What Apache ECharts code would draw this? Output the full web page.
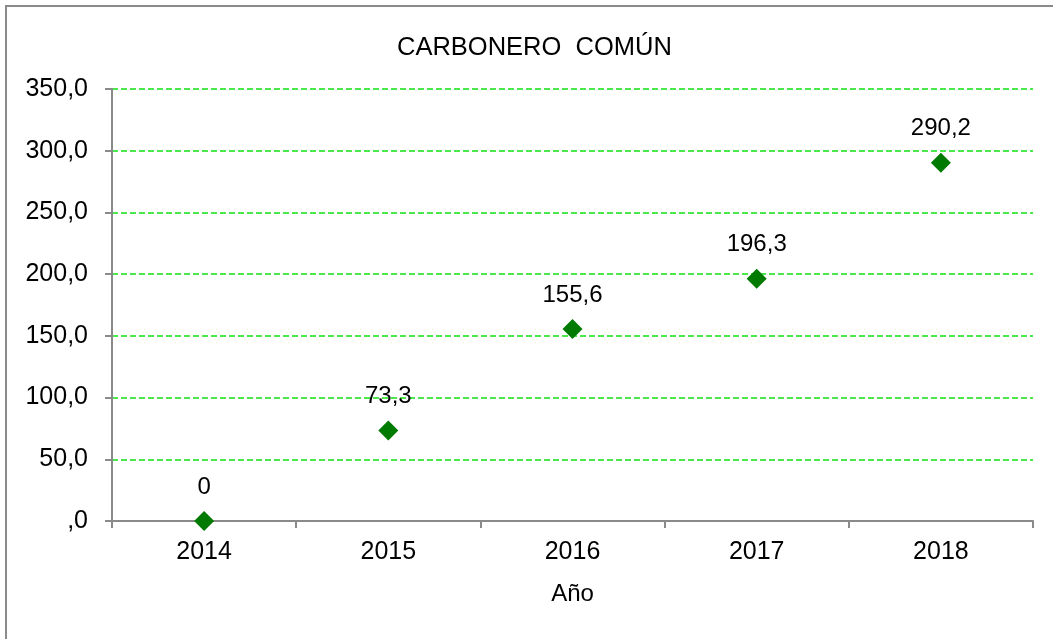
<!DOCTYPE html>
<html lang="es">
<head>
    <meta charset="UTF-8">
    <title>Carbonero común</title>
    <style>
        html,body{
            margin: 0;
            height: 100%;
            background: #fff;
        }
        #chart{
            width: 1053px;
            height: 639px;
        }
    </style>
    <script src="https://cdn.jsdelivr.net/npm/echarts@6/dist/echarts.min.js"></script>
</head>
<body>
<div id="chart"></div>
<script>
    var years = ['2014', '2015', '2016', '2017', '2018'];
    var values = [0, 73.3, 155.6, 196.3, 290.2];

    function coma(v) {
        return v.toFixed(1).replace('.', ',');
    }

    var chart = echarts.init(document.getElementById('chart'));
    var option = {
        animation: false,
        textStyle: {fontFamily: 'Liberation Sans, Arial, sans-serif'},
        graphic: [{
            type: 'rect',
            shape: {x: 6, y: 6, width: 1080, height: 660},
            style: {fill: 'none', stroke: '#8a8a8a', lineWidth: 2},
            silent: true
        }],
        title: {
            text: 'CARBONERO  COMÚN',
            left: 397,
            top: 35,
            padding: 0,
            textStyle: {fontSize: 25.5, fontWeight: 'normal', color: '#000', fontFamily: 'Liberation Sans, Arial, sans-serif'}
        },
        grid: {left: 112, right: 20, top: 89, bottom: 118},
        xAxis: {
            type: 'category',
            data: years,
            boundaryGap: true,
            name: 'Año',
            nameLocation: 'middle',
            nameGap: 61,
            nameTextStyle: {fontSize: 24, color: '#000'},
            axisLine: {lineStyle: {color: '#8a8a8a', width: 2}},
            axisTick: {show: true, length: 7, lineStyle: {color: '#8a8a8a', width: 2}},
            axisLabel: {fontSize: 25, color: '#000', margin: 19}
        },
        yAxis: {
            type: 'value',
            min: 0,
            max: 350,
            interval: 50,
            axisLine: {show: true, lineStyle: {color: '#8a8a8a', width: 2}},
            axisTick: {show: true, length: 7, lineStyle: {color: '#8a8a8a', width: 2}},
            axisLabel: {
                fontSize: 25,
                color: '#000',
                margin: 24,
                formatter: function (v) {
                    return v === 0 ? ',0' : coma(v);
                }
            },
            splitLine: {lineStyle: {color: '#10e010', type: [6, 3], width: 1.5}}
        },
        series: [{
            type: 'scatter',
            data: values,
            symbol: 'diamond',
            symbolSize: 20,
            itemStyle: {color: '#007a00', opacity: 1},
            label: {
                show: true,
                position: 'top',
                distance: 12,
                fontSize: 24,
                color: '#000',
                opacity: 1,
                formatter: function (p) {
                    return p.value === 0 ? '0' : coma(p.value);
                }
            }
        }]
    };
    chart.setOption(option);
</script>
</body>
</html>
